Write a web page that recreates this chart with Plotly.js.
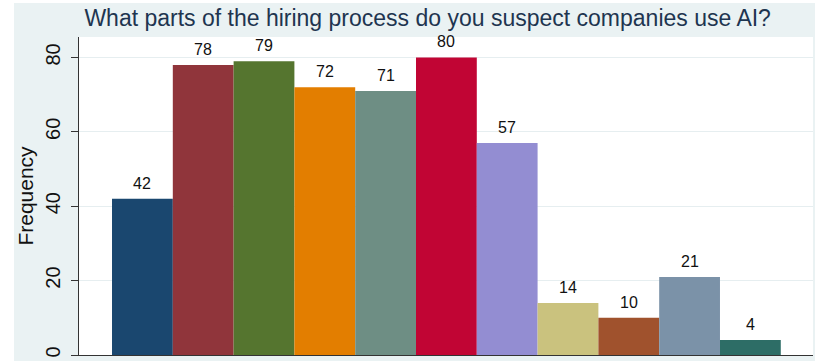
<!DOCTYPE html>
<html>
<head>
<meta charset="utf-8">
<script src="https://cdn.plot.ly/plotly-3.0.1.min.js"></script>
<style>
  html, body { margin: 0; padding: 0; background: #ffffff; width: 815px; height: 361px; overflow: hidden; }
  #chart { position: absolute; left: 14px; top: 3px; width: 801px; height: 358px; }
</style>
</head>
<body>
<div id="chart"></div>
<script>
const categories = ["1", "2", "3", "4", "5", "6", "7", "8", "9", "10", "11"];
const positions = [0, 1, 2, 3, 4, 5, 6, 7, 8, 9, 10];
const frequencies = [42, 78, 79, 72, 71, 80, 57, 14, 10, 21, 4];
const barColors = ["#1a476f", "#90353b", "#55752f", "#e37e00", "#6e8e84", "#c10534",
                   "#938dd2", "#cac27e", "#a0522d", "#7b92a8", "#2d6d66"];
const yTickValues = [0, 20, 40, 60, 80];
const yTickLabels = ["0", "20", "40", "60", "80"];
const chartTitle = "What parts of the hiring process do you suspect companies use AI?";
const yTitle = "Frequency";

const FONT = "Liberation Sans, Arial, sans-serif";

const trace = {
  type: "bar",
  x: positions,
  y: frequencies,
  width: 1,
  marker: { color: barColors, line: { width: 0 } },
  text: categories,
  hoverinfo: "y",
  textposition: "none"
};

const annotations = positions.map((p, i) => ({
  x: p, y: frequencies[i], xref: "x", yref: "y",
  text: String(frequencies[i]), showarrow: false,
  yanchor: "bottom", yshift: 5,
  font: { family: FONT, size: 16, color: "#111111" }
}));

const layout = {
  width: 801, height: 358,
  margin: { l: 65, r: 2, t: 34, b: 6, pad: 0 },
  paper_bgcolor: "#eaf2f3",
  plot_bgcolor: "#ffffff",
  showlegend: false,
  title: {
    text: chartTitle,
    font: { family: FONT, size: 23, color: "#1e3550" },
    x: 0.475, xanchor: "center", xref: "paper",
    y: 0.957, yanchor: "middle", yref: "container"
  },
  xaxis: {
    range: [-1.043, 11.03],
    showticklabels: false, ticks: "", showgrid: false, zeroline: false,
    showline: true, linecolor: "#333333", linewidth: 1.2, fixedrange: true
  },
  yaxis: {
    range: [0, 85.5],
    tickvals: yTickValues, ticktext: yTickLabels,
    tickangle: -90,
    ticks: "outside", ticklen: 7, tickcolor: "#333333", tickwidth: 1,
    ticklabelstandoff: 3,
    tickfont: { family: FONT, size: 20, color: "#111111" },
    showgrid: true, gridcolor: "#e6eef0", gridwidth: 1,
    zeroline: false, showline: true, linecolor: "#333333", linewidth: 1.2,
    title: { text: yTitle, standoff: 5,
             font: { family: FONT, size: 21, color: "#111111" } },
    fixedrange: true
  },
  annotations: annotations
};

Plotly.newPlot("chart", [trace], layout, { displayModeBar: false, staticPlot: true });
</script>
</body>
</html>
